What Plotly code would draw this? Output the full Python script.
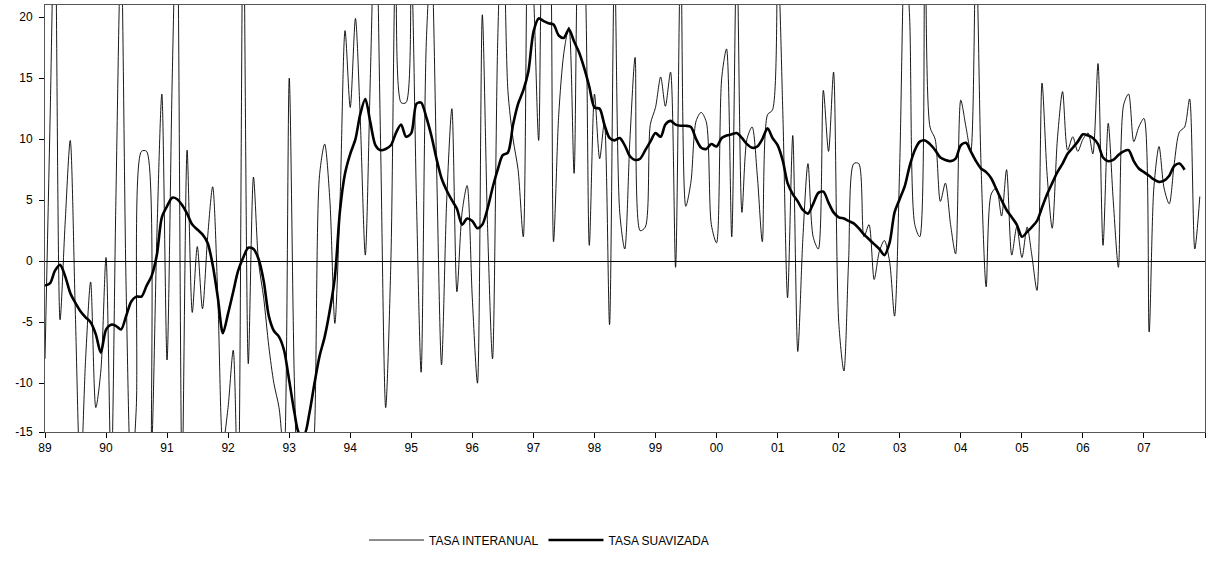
import pandas as pd
import plotly.graph_objects as go

start_month = "1989-01-01"

tasa_interanual = [
    -8, 12, 30, -4.8, 3, 9.9, -4, -18, -8, -1.7, -12, -9,
    0.3, -18, 5, 26, -2, -18, -12, 9.0, 9.0, -15, 2, 13.7,
    -8.1, 15, 30, -18, 9.1, -4.2, 1.2, -3.9, 2, 6.1, -3, -15,
    -12, -7.3, -20, 30, -8.4, 6.9, 0, -3, -7, -10, -12, -16,
    15, -10, -20, -22, -20, -14, 7, 9.6, 5, -5.1, 5, 18.9,
    12.6, 19.9, 12, 0.5, 15, 30, 10, -12, 0, 26, 13, 13,
    24, 5, -9.1, 18, 25, 8, -8.5, 5, 12.5, -2.5, 4, 6.2,
    -3, -10, 20.2, 3, -8, 18, 30, 14, 10, 7.5, 2, 28,
    22, 9.9, 28, 30, 1.6, 12, 17, 19.2, 7.2, 28, 25, 1.3,
    13.7, 8.4, 11.4, -5.2, 25, 4, 1.0, 10, 16.7, 2.5, 2.8, 11.2,
    12.6, 15.1, 12.7, 15.5, -0.5, 26, 4.5, 6.5, 11.5, 12.2, 11.4, 3,
    1.5, 15, 17.4, 2.0, 26, 4, 10, 11, 7, 1.6, 12, 12.4,
    25, 12, -3, 10.3, -7.4, 2, 8.0, 2, 1.0, 14, 9, 15.5,
    -5, -9, 0, 8, 8, 2, 3, -1.5, 0.8, 1.7, 0, -4.5,
    8, 26, 20, 3, 2, 28, 11, 10, 4.9, 6.4, 3, 0.6,
    13.2, 11, 9, 26, 8, -2.1, 5.5, 6, 3.7, 7.5, 0.5, 2.8,
    0.3, 2.8, 0.5, -2.4, 14.6, 7, 2.7, 10, 13.9, 9.1, 10.2, 9.0,
    10, 10.5, 8.8, 16.2, 1.3, 11.3, 5, -0.5, 12.8, 13.7, 9.8, 11,
    11.7, -5.8, 6, 9.4, 6, 4.7, 8, 10.6, 11, 13.3, 1, 5.3,
]

tasa_suavizada = [
    -2.0, -1.8, -0.8, -0.3, -1.2, -2.6, -3.4, -4.1, -4.6, -5.0, -6.0, -7.5,
    -5.6, -5.2, -5.3, -5.6, -4.5, -3.3, -2.9, -2.9, -2.0, -1.2, 0.5, 3.6,
    4.5, 5.2, 5.1, 4.6, 3.9, 3.0, 2.6, 2.2, 1.5, -0.3, -3.0, -5.9,
    -4.3, -2.5, -0.8, 0.3, 1.1, 1.0, 0.2, -1.6, -4.5, -5.7, -6.2, -7.3,
    -9.8, -12.4, -14.1, -14.2, -12.5, -10.0, -7.8, -6.2, -4.0, -1.3, 4.2, 7.2,
    8.8, 10.0, 12.0, 13.3, 11.4, 9.5, 9.1, 9.2, 9.5, 10.5, 11.2, 10.2,
    10.5, 12.9, 13.0, 11.8, 10.3, 8.4, 6.8, 5.8, 5.0, 4.3, 3.0, 3.5,
    3.3, 2.7, 3.0, 4.3, 6.0, 7.5, 8.7, 8.9, 11.2, 12.9, 14.0, 15.5,
    18.8, 19.9, 19.7, 19.5, 19.4, 18.5, 18.3, 19.0, 18.0, 17.1, 15.8, 14.3,
    12.6, 12.5, 11.2, 10.1, 9.9, 10.1, 9.5, 8.6, 8.3, 8.4, 9.1, 9.8,
    10.5, 10.2, 11.2, 11.5, 11.2, 11.1, 11.1, 11.0, 10.0, 9.3, 9.2, 9.6,
    9.4, 10.1, 10.3, 10.4, 10.5, 10.1, 9.6, 9.3, 9.4, 10.0, 10.9, 10.1,
    9.5, 8.2, 6.4, 5.5, 4.9, 4.2, 3.9, 4.7, 5.6, 5.7, 4.8, 4.0,
    3.6, 3.5, 3.3, 3.1, 2.7, 2.2, 1.8, 1.4, 1.0, 0.5, 1.5, 4.0,
    5.1, 6.2, 7.8, 9.1, 9.8, 9.9, 9.6, 9.1, 8.5, 8.3, 8.2, 8.4,
    9.5, 9.7, 9.0, 8.2, 7.6, 7.3, 6.8, 5.9, 5.0, 4.2, 3.6, 3.0,
    2.0, 2.4, 2.8, 3.3, 4.4, 5.5, 6.4, 7.3, 8.0, 8.8, 9.3, 9.8,
    10.4, 10.3, 10.1, 9.6, 8.5, 8.2, 8.3, 8.7, 9.0, 9.1, 8.2, 7.6,
    7.3, 7.0, 6.7, 6.5, 6.6, 7.0, 7.8, 8.0, 7.5,
]

y_tick_values = [-14, -10, -5, 0, 5, 10, 15, 20]
y_tick_labels = ["-15", "-10", "-5", "0", "5", "10", "15", "20"]

dates_i = pd.date_range(start_month, periods=len(tasa_interanual), freq="MS")
dates_s = pd.date_range(start_month, periods=len(tasa_suavizada), freq="MS")

FONT = "Liberation Sans, Arial, sans-serif"

fig = go.Figure()
fig.add_trace(go.Scatter(
    x=dates_i, y=tasa_interanual, mode="lines", name="TASA INTERANUAL",
    line=dict(color="#000000", width=0.9, shape="spline", smoothing=0.8),
))
fig.add_trace(go.Scatter(
    x=dates_s, y=tasa_suavizada, mode="lines", name="TASA SUAVIZADA",
    line=dict(color="#000000", width=2.6, shape="spline", smoothing=0.8),
))

fig.update_layout(
    width=1207, height=567,
    margin=dict(l=45, r=2, t=5, b=135, autoexpand=False),
    paper_bgcolor="white", plot_bgcolor="white",
    font=dict(family=FONT, size=12, color="black"),
    showlegend=True,
    legend=dict(orientation="h", x=0.275, xanchor="left", y=-0.253, yanchor="middle",
                font=dict(family=FONT, size=12, color="black"),
                itemwidth=55, tracegroupgap=0, bgcolor="rgba(0,0,0,0)"),
)
fig.update_xaxes(
    type="date", range=["1989-01-01", "2008-01-01"],
    tickformat="%y", dtick="M12", tick0="1989-01-01",
    ticks="outside", ticklen=5, tickcolor="black",
    showline=True, linecolor="#555555", linewidth=1, mirror=True,
    showgrid=False, zeroline=False, automargin=False,
    tickfont=dict(family=FONT, size=12, color="black"),
)
fig.update_yaxes(
    range=[-14, 21], tickvals=y_tick_values, ticktext=y_tick_labels,
    ticks="outside", ticklen=5, tickcolor="black",
    showline=True, linecolor="#555555", linewidth=1, mirror=True,
    showgrid=False, zeroline=True, zerolinecolor="black", zerolinewidth=1,
    automargin=False, ticklabelstandoff=4,
    tickfont=dict(family=FONT, size=12, color="black"),
)

fig.write_html("out.html", config={"displayModeBar": False},
               post_script="document.body.style.margin='0';")
